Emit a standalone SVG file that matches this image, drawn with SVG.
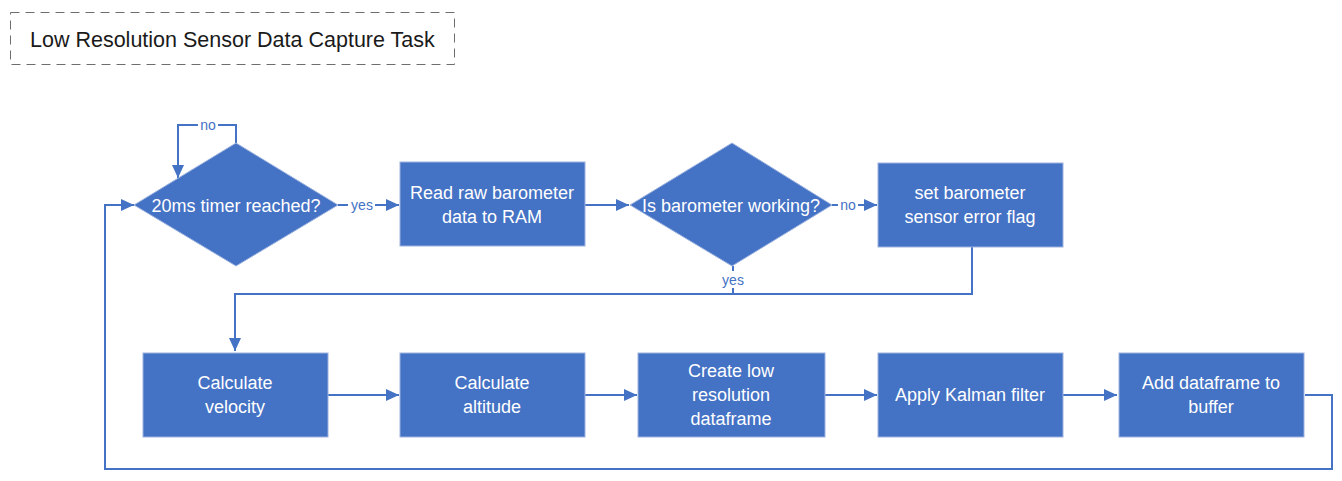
<svg xmlns="http://www.w3.org/2000/svg" width="1342" height="481" viewBox="0 0 1342 481">
<style>
.box{fill:#4472C4;stroke:#9DB3E0;stroke-width:1}
.t{font-family:"Liberation Sans",Arial,sans-serif;font-size:18px;fill:#FFFFFF;text-anchor:middle}
.lbl{font-family:"Liberation Sans",Arial,sans-serif;font-size:14px;fill:#4472C4;text-anchor:middle}
.c{fill:none;stroke:#4472C4;stroke-width:2}
.bg{fill:#FFFFFF}
</style>
<defs>
<marker id="arr" markerUnits="userSpaceOnUse" markerWidth="14" markerHeight="12" refX="13" refY="6" orient="auto">
<path d="M0,0 L13,6 L0,12 z" fill="#4472C4"/>
</marker>
</defs>
<rect width="1342" height="481" fill="#FFFFFF"/>
<g id="title">
<rect x="10.5" y="12.5" width="444" height="52" fill="none" stroke="#6E6E6E" stroke-width="1" stroke-dasharray="9,6"/>
<text x="30" y="47" font-family="'Liberation Sans',Arial,sans-serif" font-size="21.5px" fill="#1A1A1A">Low Resolution Sensor Data Capture Task</text>
</g>
<g id="connectors">
<path class="c" d="M236,143 V125 H178 V178" marker-end="url(#arr)"/>
<path class="c" d="M338,205 H399" marker-end="url(#arr)"/>
<path class="c" d="M585,205 H629" marker-end="url(#arr)"/>
<path class="c" d="M832,205 H877" marker-end="url(#arr)"/>
<path class="c" d="M972,247 V294 H235 V351" marker-end="url(#arr)"/>
<path class="c" d="M733,266 V294"/>
<path class="c" d="M328,395 H399" marker-end="url(#arr)"/>
<path class="c" d="M585,395 H637" marker-end="url(#arr)"/>
<path class="c" d="M825,395 H877" marker-end="url(#arr)"/>
<path class="c" d="M1063,395 H1117" marker-end="url(#arr)"/>
<path class="c" d="M1305,395 H1332 V469 H105 V205 H134" marker-end="url(#arr)"/>
<rect class="bg" x="198" y="117" width="20" height="16"/>
<text class="lbl" x="208" y="130">no</text>
<rect class="bg" x="348" y="197" width="27" height="16"/>
<text class="lbl" x="362" y="210">yes</text>
<rect class="bg" x="838" y="197" width="20" height="16"/>
<text class="lbl" x="848" y="210">no</text>
<rect class="bg" x="719" y="271" width="28" height="17"/>
<text class="lbl" x="733" y="285">yes</text>
</g>
<g id="n1">
<polygon class="box" points="236,143 338,205 236,266 134,205"/>
<text class="t" x="236" y="212">20ms timer reached?</text>
</g>
<g id="n2">
<rect class="box" x="400" y="162" width="185" height="84"/>
<text class="t" x="492" y="199">Read raw barometer</text>
<text class="t" x="492" y="223">data to RAM</text>
</g>
<g id="n3">
<polygon class="box" points="732,143 832,205 732,266 630,205"/>
<text class="t" x="731" y="212">Is barometer working?</text>
</g>
<g id="n4">
<rect class="box" x="878" y="163" width="185" height="84"/>
<text class="t" x="970" y="199">set barometer</text>
<text class="t" x="970" y="223">sensor error flag</text>
</g>
<g id="n5">
<rect class="box" x="143" y="353" width="185" height="84"/>
<text class="t" x="235" y="389">Calculate</text>
<text class="t" x="235" y="413">velocity</text>
</g>
<g id="n6">
<rect class="box" x="400" y="353" width="185" height="84"/>
<text class="t" x="492" y="389">Calculate</text>
<text class="t" x="492" y="413">altitude</text>
</g>
<g id="n7">
<rect class="box" x="638" y="353" width="187" height="84"/>
<text class="t" x="731" y="377">Create low</text>
<text class="t" x="731" y="401">resolution</text>
<text class="t" x="731" y="425">dataframe</text>
</g>
<g id="n8">
<rect class="box" x="878" y="353" width="185" height="84"/>
<text class="t" x="970" y="401">Apply Kalman filter</text>
</g>
<g id="n9">
<rect class="box" x="1119" y="353" width="185" height="84"/>
<text class="t" x="1211" y="389">Add dataframe to</text>
<text class="t" x="1211" y="413">buffer</text>
</g>
</svg>
